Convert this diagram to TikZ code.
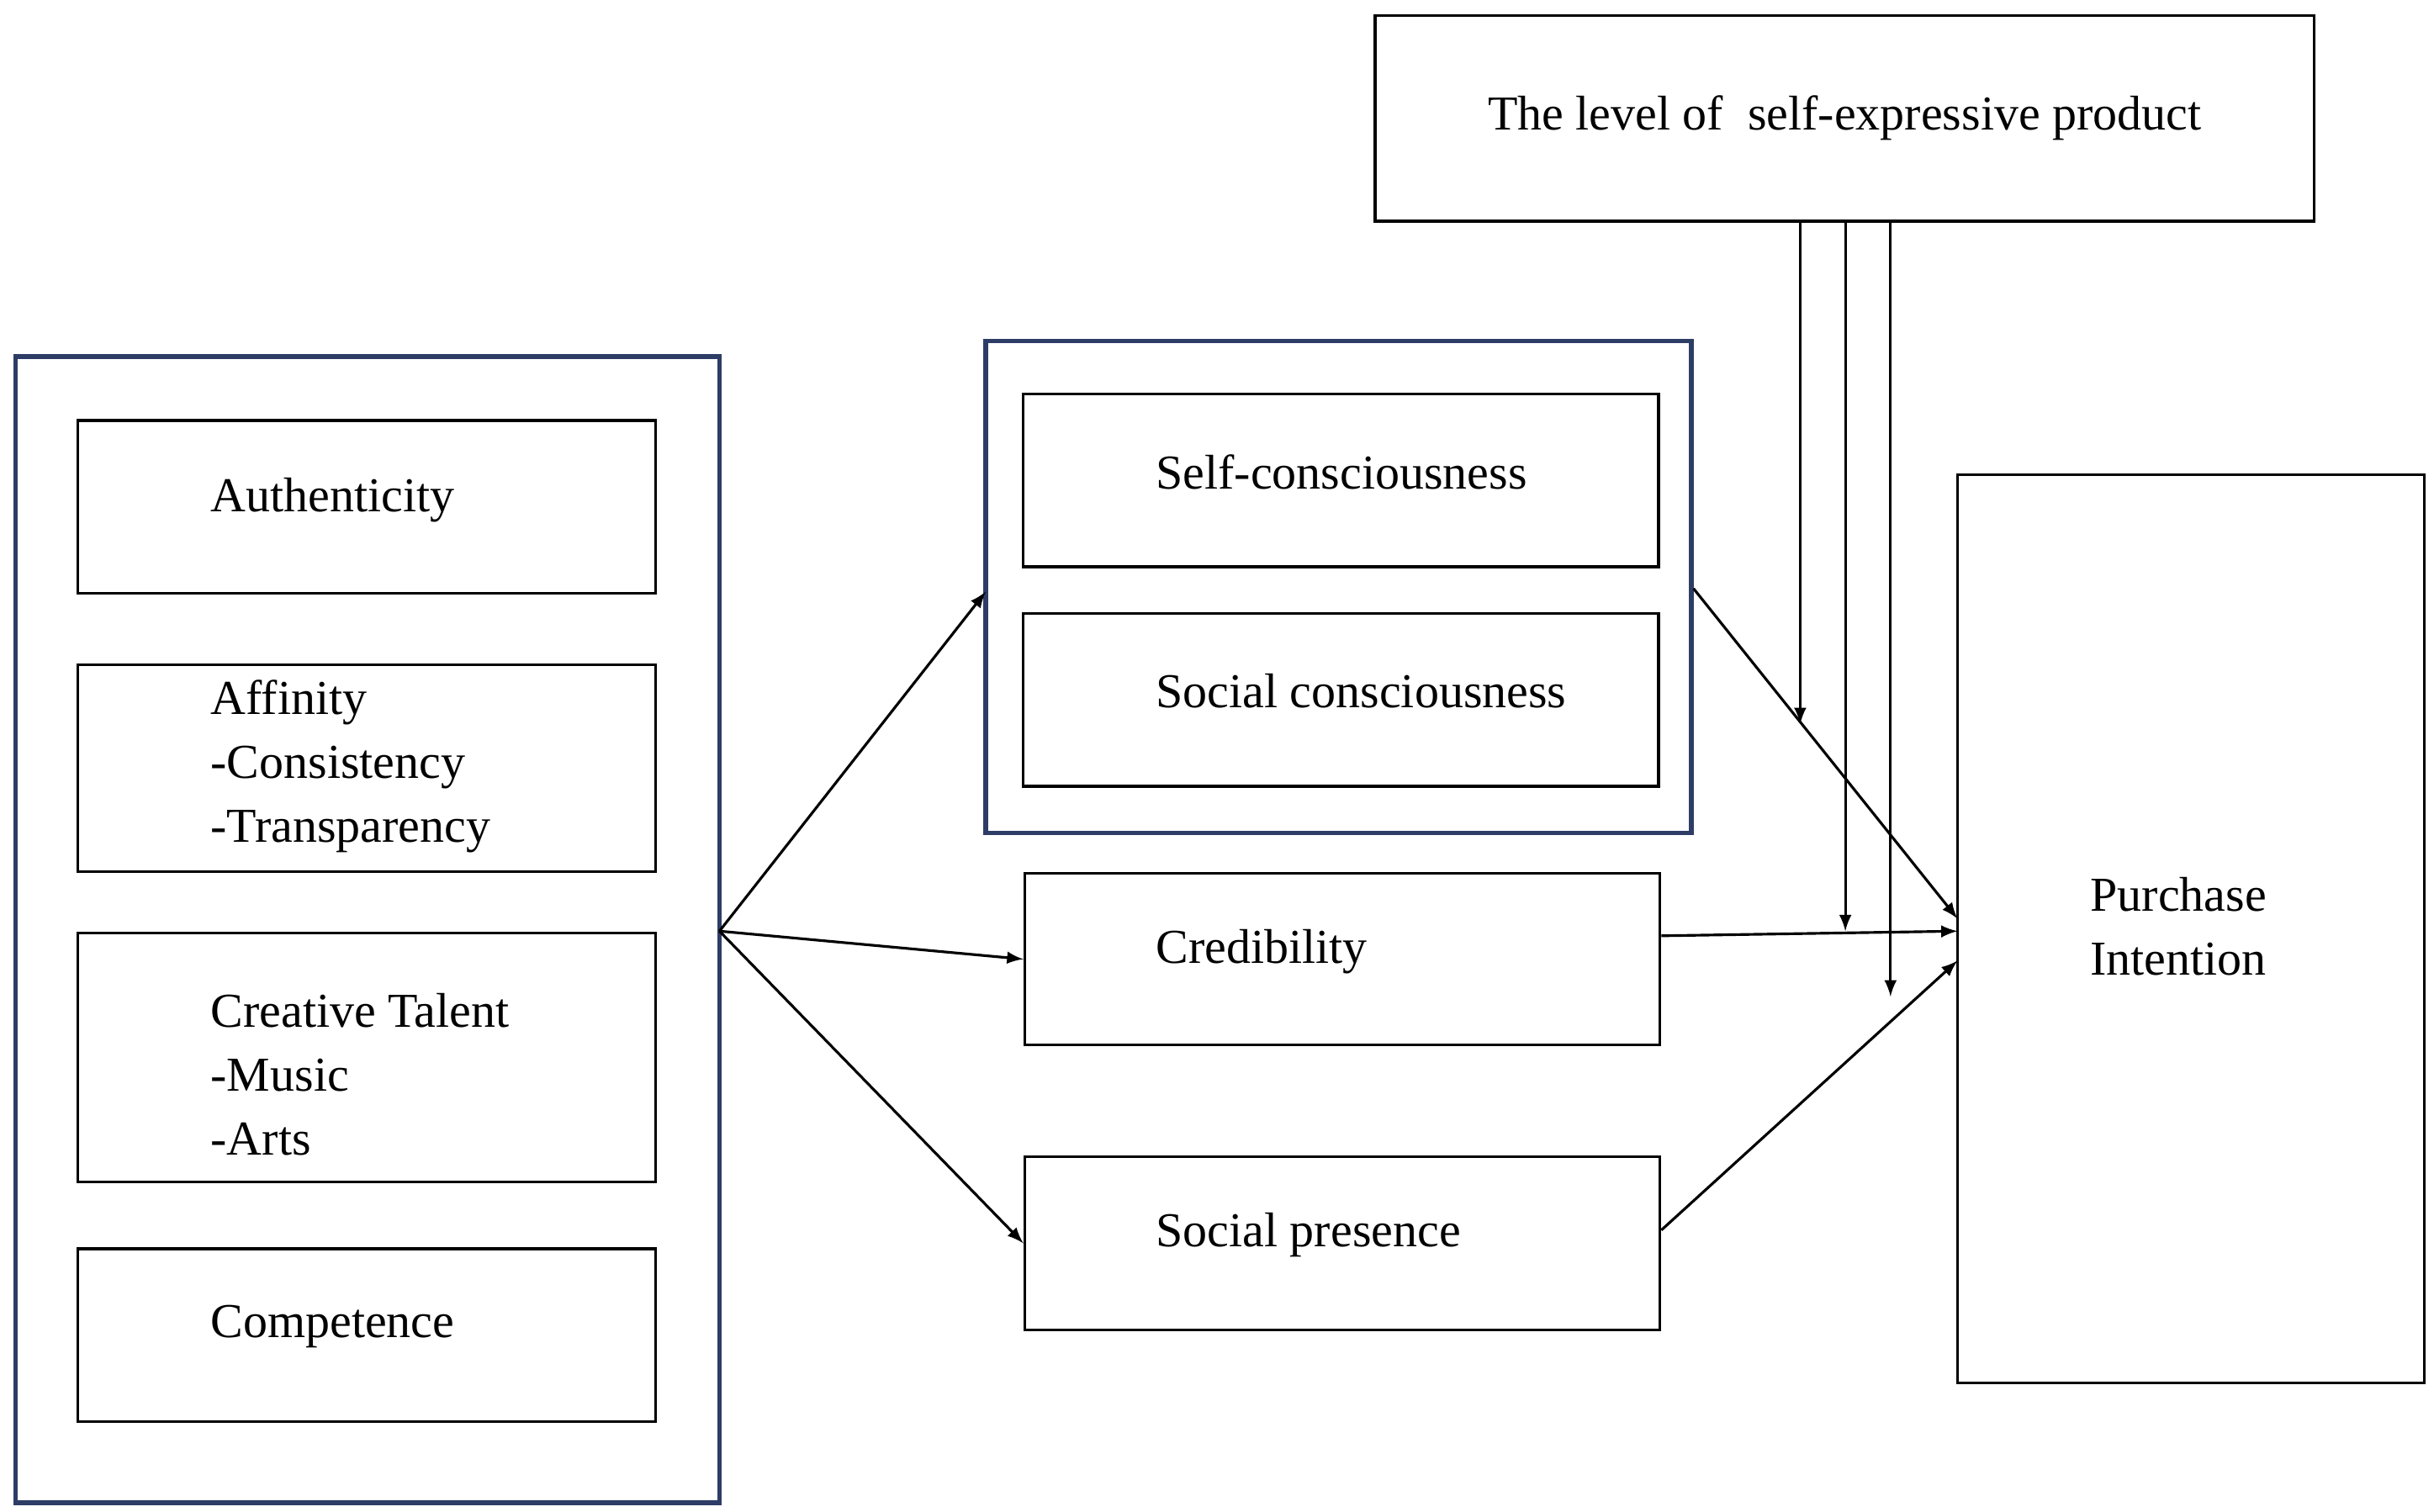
\documentclass[tikz,border=0pt]{standalone}
\usepackage{fontspec}
\setmainfont{Liberation Serif}
\usepackage{xcolor}
\usetikzlibrary{shapes,arrows}
\definecolor{navy}{HTML}{2E3D66}
\tikzstyle{block} = [rectangle, draw, line width=0.9pt, inner sep=0pt]
\tikzstyle{frame} = [rectangle, draw=navy, line width=1.6pt, inner sep=0pt]
\tikzstyle{label} = [anchor=west, align=left, inner sep=0pt,
    font=\fontsize{16.5}{21.6}\selectfont]
\tikzstyle{arrow} = [draw, -latex, line width=0.9pt]
\begin{document}
\begin{tikzpicture}[x=0.01852cm, y=-0.01852cm]
			\useasboundingbox (0,0) rectangle (1563,971);
			% Place boxes
			\node [block, minimum width=603*0.01852cm, minimum height=132*0.01852cm] (level) at (1184.5,76) {};
			\node [frame, minimum width=452*0.01852cm, minimum height=736*0.01852cm] (drivers) at (236,597) {};
			\node [block, minimum width=371*0.01852cm, minimum height=111*0.01852cm] (auth) at (235.5,325.5) {};
			\node [block, minimum width=371*0.01852cm, minimum height=133*0.01852cm] (affin) at (235.5,493.5) {};
			\node [block, minimum width=371*0.01852cm, minimum height=160*0.01852cm] (creat) at (235.5,679) {};
			\node [block, minimum width=371*0.01852cm, minimum height=111*0.01852cm] (compet) at (235.5,857.5) {};
			\node [frame, minimum width=453*0.01852cm, minimum height=316*0.01852cm] (consc) at (859.5,377) {};
			\node [block, minimum width=408*0.01852cm, minimum height=111*0.01852cm] (selfc) at (861,308.5) {};
			\node [block, minimum width=408*0.01852cm, minimum height=111*0.01852cm] (socc) at (861,449.5) {};
			\node [block, minimum width=408*0.01852cm, minimum height=110*0.01852cm] (cred) at (862,616) {};
			\node [block, minimum width=408*0.01852cm, minimum height=111*0.01852cm] (socp) at (862,798.5) {};
			\node [block, minimum width=300*0.01852cm, minimum height=583*0.01852cm] (purch) at (1407,596.5) {};
			% Texts
			\node [label, anchor=center] (levelT) at (level) {The level of\ \ self-expressive product};
			\node [label] (authT) at (135,321) {Authenticity};
			\node [label] (affinT) at (135,492) {Affinity\\-Consistency\\-Transparency};
			\node [label] (creatT) at (135,690) {Creative Talent\\-Music\\-Arts};
			\node [label] (competT) at (135,852) {Competence};
			\node [label] (selfcT) at (742,303) {Self-consciousness};
			\node [label] (soccT) at (742,444) {Social consciousness};
			\node [label] (credT) at (742,611) {Credibility};
			\node [label] (socpT) at (742,793) {Social presence};
			\node [label] (purchT) at (1342,595) {Purchase\\Intention};
			% Moderator ends
			\coordinate (m1) at (1156,465);
			\coordinate (m2) at (1185,598);
			\coordinate (m3) at (1214,640);
			% Connectors
			\path [arrow] (462,598) -- (633,380);
			\path [arrow] (462,598) -- (cred.west);
			\path [arrow] (462,598) -- (socp.west);
			\path [arrow] (consc.east |- 0,378) -- (1257,590);
			\path [arrow] (cred.east |- 0,601) -- (1257,598);
			\path [arrow] (socp.east |- 0,790) -- (1257,617);
			\path [arrow] (level.south -| m1) -- (m1);
			\path [arrow] (level.south -| m2) -- (m2);
			\path [arrow] (level.south -| m3) -- (m3);
	\end{tikzpicture}
\end{document}
